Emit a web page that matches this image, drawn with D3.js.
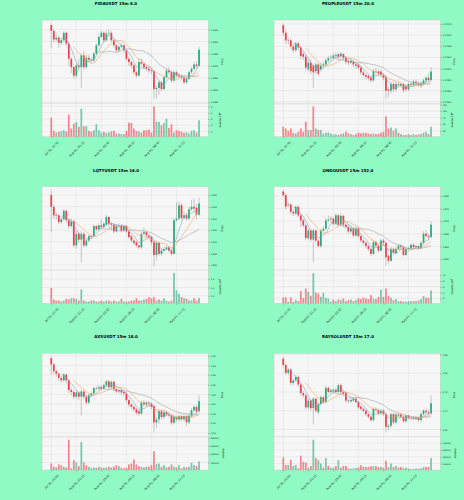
<!DOCTYPE html>
<html>
<head>
<meta charset="utf-8">
<script src="https://cdn.jsdelivr.net/npm/d3@7"></script>
<style>
  body { margin: 0; background: #8ffac3; }
  svg { display: block; }
  text { font-family: "DejaVu Sans", sans-serif; }
</style>
</head>
<body>
<svg id="chart" width="464" height="500"></svg>
<script>
// Candle data, 60 x 15m candles per symbol.
var tickIndex = [0, 10, 20, 30, 40, 50];
var tickLabels = ["Jul 31, 22:45", "Aug 01, 01:15", "Aug 01, 03:45", "Aug 01, 06:15", "Aug 01, 08:45", "Aug 01, 11:15"];
var mavWindows = [5, 10, 20];

var fidaOpen = [0.19036,0.18989,0.18917,0.18933,0.18889,0.18911,0.18972,0.18883,0.18758,0.18689,0.18619,0.18703,0.18689,0.18786,0.18689,0.18767,0.18750,0.18744,0.18800,0.18869,0.18939,0.18972,0.18911,0.18967,0.18972,0.18911,0.18869,0.18828,0.18856,0.18869,0.18828,0.18758,0.18731,0.18703,0.18647,0.18619,0.18731,0.18717,0.18689,0.18675,0.18661,0.18656,0.18508,0.18517,0.18564,0.18508,0.18606,0.18661,0.18647,0.18578,0.18647,0.18619,0.18611,0.18600,0.18564,0.18592,0.18647,0.18675,0.18711,0.18700];
var fidaClose = [0.18989,0.18917,0.18933,0.18889,0.18911,0.18972,0.18883,0.18758,0.18689,0.18619,0.18703,0.18689,0.18786,0.18689,0.18767,0.18750,0.18744,0.18800,0.18869,0.18939,0.18972,0.18911,0.18967,0.18972,0.18911,0.18869,0.18828,0.18856,0.18869,0.18828,0.18758,0.18731,0.18703,0.18647,0.18619,0.18731,0.18717,0.18689,0.18675,0.18661,0.18656,0.18508,0.18517,0.18564,0.18508,0.18606,0.18661,0.18647,0.18578,0.18647,0.18619,0.18611,0.18600,0.18564,0.18592,0.18647,0.18675,0.18711,0.18700,0.18833];
var fidaHigh = [0.19050,0.19000,0.18960,0.18950,0.18930,0.18985,0.18980,0.18900,0.18770,0.18700,0.18720,0.18760,0.18800,0.18820,0.18790,0.18790,0.18770,0.18815,0.18885,0.18960,0.18990,0.18985,0.18990,0.19000,0.18985,0.18925,0.18880,0.18870,0.18890,0.18880,0.18840,0.18775,0.18745,0.18715,0.18660,0.18760,0.18760,0.18730,0.18700,0.18690,0.18680,0.18665,0.18540,0.18580,0.18575,0.18620,0.18680,0.18690,0.18660,0.18665,0.18660,0.18640,0.18625,0.18615,0.18610,0.18660,0.18690,0.18730,0.18740,0.18856];
var fidaLow = [0.18842,0.18890,0.18900,0.18850,0.18870,0.18895,0.18860,0.18700,0.18640,0.18590,0.18600,0.18660,0.18517,0.18670,0.18680,0.18730,0.18725,0.18735,0.18790,0.18860,0.18930,0.18895,0.18900,0.18950,0.18895,0.18850,0.18810,0.18815,0.18840,0.18810,0.18740,0.18700,0.18680,0.18630,0.18600,0.18610,0.18700,0.18670,0.18655,0.18640,0.18630,0.18425,0.18430,0.18460,0.18490,0.18500,0.18595,0.18630,0.18560,0.18570,0.18600,0.18595,0.18580,0.18545,0.18550,0.18585,0.18630,0.18665,0.18680,0.18690];
var fidaVolume = [3.21e6,1.10e6,0.84e6,0.95e6,1.05e6,1.21e6,1.00e6,3.68e6,1.47e6,2.26e6,2.53e6,1.74e6,4.63e6,1.84e6,1.84e6,1.10e6,0.95e6,1.21e6,2.16e6,1.21e6,0.84e6,0.95e6,0.79e6,0.89e6,1.00e6,1.10e6,0.68e6,0.68e6,0.58e6,0.58e6,1.10e6,2.42e6,2.37e6,1.47e6,1.10e6,1.00e6,0.84e6,1.21e6,1.21e6,1.32e6,0.84e6,5.00e6,2.58e6,2.53e6,2.00e6,2.37e6,3.05e6,1.58e6,2.16e6,0.84e6,1.21e6,1.10e6,0.95e6,0.79e6,0.89e6,0.68e6,1.10e6,1.21e6,0.84e6,2.79e6];

var peopleOpen = [0.07972,0.07955,0.07938,0.07938,0.07924,0.07916,0.07931,0.07922,0.07907,0.07901,0.07873,0.07888,0.07881,0.07869,0.07884,0.07873,0.07881,0.07884,0.07893,0.07898,0.07899,0.07903,0.07907,0.07903,0.07907,0.07899,0.07892,0.07888,0.07890,0.07884,0.07883,0.07877,0.07866,0.07860,0.07858,0.07854,0.07848,0.07869,0.07868,0.07868,0.07860,0.07856,0.07828,0.07825,0.07840,0.07828,0.07840,0.07836,0.07840,0.07836,0.07828,0.07840,0.07838,0.07845,0.07841,0.07836,0.07840,0.07848,0.07854,0.07849];
var peopleClose = [0.07955,0.07938,0.07937,0.07924,0.07916,0.07931,0.07922,0.07903,0.07901,0.07877,0.07888,0.07869,0.07866,0.07884,0.07863,0.07881,0.07884,0.07893,0.07898,0.07899,0.07904,0.07905,0.07901,0.07908,0.07899,0.07890,0.07888,0.07892,0.07884,0.07881,0.07877,0.07866,0.07860,0.07856,0.07853,0.07848,0.07869,0.07868,0.07863,0.07860,0.07854,0.07825,0.07825,0.07840,0.07828,0.07840,0.07838,0.07840,0.07826,0.07828,0.07840,0.07838,0.07845,0.07841,0.07838,0.07840,0.07848,0.07854,0.07849,0.07868];
var peopleHigh = [0.07976,0.07960,0.07945,0.07942,0.07930,0.07935,0.07936,0.07926,0.07912,0.07905,0.07893,0.07895,0.07886,0.07890,0.07888,0.07886,0.07890,0.07898,0.07903,0.07905,0.07909,0.07911,0.07910,0.07912,0.07910,0.07902,0.07896,0.07897,0.07894,0.07889,0.07887,0.07880,0.07870,0.07864,0.07862,0.07858,0.07874,0.07876,0.07873,0.07872,0.07864,0.07860,0.07833,0.07845,0.07846,0.07845,0.07845,0.07844,0.07844,0.07840,0.07844,0.07845,0.07849,0.07850,0.07846,0.07845,0.07852,0.07858,0.07864,0.07878];
var peopleLow = [0.07948,0.07930,0.07928,0.07918,0.07910,0.07912,0.07915,0.07895,0.07894,0.07870,0.07868,0.07862,0.07831,0.07862,0.07858,0.07868,0.07876,0.07880,0.07888,0.07892,0.07894,0.07898,0.07895,0.07898,0.07893,0.07884,0.07882,0.07884,0.07878,0.07874,0.07872,0.07860,0.07855,0.07850,0.07847,0.07843,0.07845,0.07862,0.07857,0.07855,0.07848,0.07806,0.07810,0.07818,0.07822,0.07823,0.07832,0.07831,0.07821,0.07823,0.07824,0.07834,0.07834,0.07836,0.07833,0.07831,0.07836,0.07844,0.07845,0.07845];
var peopleVolume = [40e6,33.75e6,25e6,33.75e6,17.5e6,15e6,21.25e6,33.75e6,21.25e6,58.75e6,27.5e6,27.5e6,117.5e6,33.75e6,27.5e6,27.5e6,15e6,17.5e6,18.75e6,15e6,11.25e6,12.5e6,8.75e6,12.5e6,15e6,21.25e6,15e6,12.5e6,8.75e6,12.5e6,18.75e6,15e6,17.5e6,17.5e6,15e6,12.5e6,15e6,12.5e6,12.5e6,17.5e6,21.25e6,80e6,33.75e6,37.5e6,25e6,33.75e6,17.5e6,12.5e6,8.75e6,8.75e6,12.5e6,8.75e6,12.5e6,8.75e6,11.25e6,12.5e6,17.5e6,21.25e6,12.5e6,40e6];

var lqtyOpen = [0.9200,0.9149,0.9113,0.9113,0.9084,0.9096,0.9132,0.9092,0.9067,0.9087,0.8984,0.9034,0.9009,0.9034,0.8984,0.9005,0.9024,0.9024,0.9067,0.9053,0.9070,0.9063,0.9073,0.9106,0.9077,0.9073,0.9044,0.9067,0.9070,0.9048,0.9067,0.9044,0.9024,0.9005,0.8998,0.8984,0.8976,0.9034,0.9041,0.9027,0.9020,0.8998,0.8943,0.8995,0.8948,0.8962,0.8969,0.8976,0.8962,0.8948,0.9092,0.9099,0.9156,0.9102,0.9113,0.9099,0.9139,0.9149,0.9145,0.9116];
var lqtyClose = [0.9149,0.9113,0.9110,0.9084,0.9096,0.9132,0.9092,0.9067,0.9087,0.8984,0.9034,0.9009,0.9034,0.8984,0.9005,0.9024,0.9020,0.9067,0.9053,0.9070,0.9063,0.9077,0.9106,0.9077,0.9073,0.9044,0.9067,0.9070,0.9048,0.9067,0.9044,0.9020,0.9005,0.8995,0.8984,0.8976,0.9034,0.9041,0.9027,0.9020,0.8998,0.8943,0.8995,0.8948,0.8962,0.8969,0.8976,0.8962,0.8948,0.9092,0.9099,0.9156,0.9102,0.9113,0.9099,0.9139,0.9149,0.9142,0.9116,0.9164];
var lqtyHigh = [0.9221,0.9160,0.9125,0.9120,0.9105,0.9140,0.9138,0.9100,0.9095,0.9095,0.9045,0.9040,0.9045,0.9040,0.9012,0.9030,0.9032,0.9075,0.9072,0.9078,0.9095,0.9085,0.9115,0.9110,0.9085,0.9078,0.9075,0.9078,0.9075,0.9072,0.9072,0.9050,0.9030,0.9012,0.9005,0.8990,0.9042,0.9060,0.9048,0.9035,0.9025,0.9005,0.9002,0.9000,0.8970,0.8978,0.8985,0.8982,0.8968,0.9100,0.9170,0.9172,0.9165,0.9130,0.9125,0.9150,0.9180,0.9185,0.9160,0.9188];
var lqtyLow = [0.9041,0.9100,0.9095,0.9075,0.9075,0.9090,0.9080,0.9055,0.9060,0.8975,0.8970,0.8995,0.8912,0.8975,0.8976,0.8998,0.9012,0.9018,0.9045,0.9048,0.9058,0.9058,0.9068,0.9060,0.9050,0.9035,0.9040,0.9058,0.9040,0.9042,0.9036,0.9012,0.8996,0.8985,0.8975,0.8968,0.8970,0.9028,0.9018,0.9010,0.8985,0.8897,0.8919,0.8940,0.8940,0.8955,0.8962,0.8955,0.8940,0.8945,0.9085,0.9092,0.9095,0.9095,0.9090,0.9092,0.9130,0.9130,0.9095,0.9110];
var lqtyVolume = [0.96e6,0.28e6,0.22e6,0.22e6,0.16e6,0.22e6,0.32e6,0.28e6,0.36e6,0.36e6,0.32e6,0.22e6,0.88e6,0.22e6,0.16e6,0.16e6,0.22e6,0.22e6,0.16e6,0.16e6,0.22e6,0.16e6,0.22e6,0.22e6,0.16e6,0.22e6,0.16e6,0.16e6,0.32e6,0.16e6,0.16e6,0.16e6,0.22e6,0.22e6,0.36e6,0.22e6,0.22e6,0.28e6,0.32e6,0.42e6,0.36e6,0.42e6,0.22e6,0.28e6,0.22e6,0.36e6,0.22e6,0.16e6,0.22e6,1.86e6,0.82e6,0.62e6,0.42e6,0.36e6,0.32e6,0.22e6,0.22e6,0.36e6,0.22e6,0.36e6];

var ondoOpen = [0.8817,0.8803,0.8763,0.8766,0.8737,0.8730,0.8757,0.8723,0.8703,0.8683,0.8633,0.8663,0.8627,0.8663,0.8623,0.8601,0.8663,0.8670,0.8703,0.8707,0.8710,0.8690,0.8723,0.8686,0.8721,0.8686,0.8677,0.8659,0.8670,0.8643,0.8670,0.8641,0.8623,0.8614,0.8601,0.8590,0.8570,0.8617,0.8603,0.8583,0.8623,0.8614,0.8563,0.8543,0.8590,0.8574,0.8590,0.8603,0.8597,0.8566,0.8590,0.8593,0.8606,0.8597,0.8601,0.8593,0.8614,0.8650,0.8641,0.8637];
var ondoClose = [0.8803,0.8757,0.8766,0.8737,0.8730,0.8757,0.8723,0.8703,0.8683,0.8633,0.8663,0.8627,0.8663,0.8623,0.8601,0.8663,0.8670,0.8703,0.8707,0.8710,0.8690,0.8723,0.8686,0.8721,0.8686,0.8677,0.8659,0.8670,0.8643,0.8670,0.8641,0.8623,0.8614,0.8601,0.8590,0.8570,0.8617,0.8603,0.8583,0.8623,0.8614,0.8557,0.8543,0.8590,0.8574,0.8590,0.8603,0.8597,0.8566,0.8590,0.8593,0.8606,0.8597,0.8601,0.8593,0.8614,0.8650,0.8641,0.8637,0.8686];
var ondoHigh = [0.8823,0.8810,0.8775,0.8772,0.8745,0.8763,0.8762,0.8730,0.8710,0.8690,0.8670,0.8670,0.8672,0.8668,0.8630,0.8670,0.8680,0.8712,0.8722,0.8720,0.8715,0.8730,0.8728,0.8730,0.8726,0.8692,0.8685,0.8678,0.8675,0.8678,0.8675,0.8648,0.8630,0.8620,0.8608,0.8596,0.8625,0.8622,0.8610,0.8630,0.8630,0.8620,0.8570,0.8598,0.8596,0.8598,0.8610,0.8610,0.8603,0.8596,0.8600,0.8612,0.8612,0.8608,0.8606,0.8620,0.8660,0.8665,0.8650,0.8699];
var ondoLow = [0.8795,0.8745,0.8755,0.8728,0.8720,0.8725,0.8715,0.8677,0.8675,0.8625,0.8625,0.8618,0.8537,0.8615,0.8592,0.8595,0.8655,0.8665,0.8695,0.8698,0.8680,0.8685,0.8678,0.8680,0.8675,0.8668,0.8650,0.8652,0.8635,0.8638,0.8632,0.8615,0.8605,0.8592,0.8580,0.8562,0.8565,0.8595,0.8575,0.8578,0.8605,0.8523,0.8528,0.8538,0.8566,0.8568,0.8585,0.8590,0.8560,0.8562,0.8584,0.8588,0.8590,0.8592,0.8586,0.8588,0.8608,0.8632,0.8625,0.8630];
var ondoVolume = [2.29e6,2.29e6,0.80e6,2.29e6,0.80e6,1.49e6,1.03e6,4.46e6,2.06e6,5.37e6,4.23e6,2.86e6,10.74e6,4.00e6,3.66e6,2.51e6,3.89e6,2.17e6,1.94e6,0.80e6,1.49e6,1.03e6,1.60e6,1.37e6,1.94e6,1.03e6,1.37e6,1.60e6,1.03e6,1.37e6,1.94e6,1.71e6,2.17e6,1.94e6,1.71e6,3.09e6,1.94e6,1.71e6,2.51e6,5.03e6,2.51e6,5.37e6,2.74e6,2.17e6,1.37e6,1.71e6,1.03e6,1.03e6,0.80e6,0.80e6,1.03e6,1.03e6,1.03e6,1.03e6,1.26e6,1.71e6,2.74e6,2.17e6,2.17e6,4.69e6];

var axsOpen = [5.295,5.282,5.268,5.263,5.254,5.249,5.261,5.249,5.229,5.225,5.215,5.224,5.215,5.226,5.215,5.203,5.218,5.222,5.233,5.232,5.235,5.232,5.239,5.247,5.235,5.246,5.231,5.226,5.229,5.225,5.222,5.208,5.199,5.194,5.189,5.185,5.180,5.203,5.199,5.203,5.201,5.196,5.162,5.168,5.185,5.173,5.183,5.178,5.176,5.161,5.173,5.168,5.175,5.168,5.175,5.162,5.176,5.187,5.194,5.185];
var axsClose = [5.282,5.268,5.263,5.254,5.249,5.261,5.249,5.229,5.225,5.215,5.224,5.215,5.226,5.215,5.203,5.218,5.222,5.233,5.232,5.235,5.232,5.239,5.247,5.235,5.246,5.231,5.226,5.229,5.224,5.222,5.208,5.199,5.194,5.189,5.182,5.180,5.203,5.199,5.203,5.201,5.194,5.162,5.168,5.185,5.173,5.183,5.178,5.176,5.161,5.173,5.168,5.175,5.168,5.175,5.162,5.176,5.187,5.194,5.185,5.206];
var axsHigh = [5.298,5.285,5.272,5.266,5.258,5.264,5.264,5.252,5.233,5.228,5.228,5.227,5.230,5.229,5.218,5.222,5.226,5.236,5.237,5.239,5.239,5.243,5.250,5.250,5.249,5.248,5.234,5.232,5.232,5.228,5.225,5.211,5.202,5.197,5.192,5.188,5.207,5.208,5.207,5.206,5.204,5.199,5.172,5.189,5.188,5.187,5.186,5.182,5.179,5.177,5.176,5.179,5.178,5.179,5.178,5.180,5.191,5.198,5.198,5.218];
var axsLow = [5.260,5.262,5.256,5.248,5.244,5.246,5.242,5.222,5.218,5.210,5.211,5.208,5.176,5.210,5.198,5.200,5.214,5.219,5.228,5.229,5.228,5.229,5.236,5.230,5.231,5.227,5.222,5.222,5.219,5.218,5.203,5.194,5.189,5.184,5.177,5.175,5.177,5.195,5.195,5.196,5.189,5.141,5.150,5.160,5.168,5.169,5.174,5.172,5.157,5.158,5.164,5.164,5.164,5.165,5.154,5.158,5.172,5.183,5.180,5.182];
var axsVolume = [176000,96000,80000,152000,136000,96000,80000,752000,56000,256000,200000,112000,696000,200000,136000,96000,72000,80000,72000,96000,80000,72000,80000,96000,80000,96000,136000,112000,72000,56000,72000,152000,176000,272000,152000,112000,96000,80000,96000,96000,136000,472000,160000,176000,96000,136000,80000,96000,152000,96000,80000,136000,56000,96000,80000,96000,192000,136000,112000,224000];

var raysolOpen = [2.839,2.822,2.801,2.810,2.774,2.781,2.790,2.770,2.747,2.741,2.709,2.727,2.707,2.732,2.696,2.718,2.736,2.723,2.761,2.750,2.752,2.756,2.750,2.768,2.750,2.747,2.727,2.725,2.727,2.732,2.723,2.711,2.705,2.700,2.691,2.684,2.675,2.705,2.702,2.693,2.700,2.691,2.657,2.660,2.691,2.669,2.690,2.690,2.684,2.672,2.687,2.681,2.681,2.678,2.681,2.675,2.691,2.700,2.696,2.693];
var raysolClose = [2.822,2.801,2.810,2.774,2.781,2.790,2.770,2.747,2.741,2.709,2.727,2.707,2.732,2.700,2.718,2.736,2.723,2.761,2.750,2.754,2.756,2.750,2.768,2.750,2.745,2.727,2.725,2.729,2.732,2.723,2.709,2.705,2.700,2.691,2.684,2.675,2.705,2.702,2.693,2.700,2.691,2.657,2.660,2.691,2.669,2.690,2.687,2.684,2.672,2.687,2.681,2.680,2.678,2.681,2.675,2.691,2.700,2.696,2.693,2.720];
var raysolHigh = [2.844,2.826,2.815,2.814,2.786,2.795,2.794,2.774,2.752,2.745,2.732,2.731,2.737,2.736,2.722,2.741,2.741,2.766,2.765,2.758,2.760,2.760,2.773,2.772,2.754,2.751,2.731,2.733,2.736,2.736,2.727,2.715,2.709,2.704,2.695,2.688,2.709,2.710,2.706,2.705,2.704,2.695,2.665,2.695,2.695,2.694,2.694,2.693,2.688,2.691,2.690,2.685,2.685,2.685,2.684,2.695,2.704,2.706,2.703,2.741];
var raysolLow = [2.815,2.795,2.796,2.768,2.768,2.776,2.763,2.740,2.735,2.703,2.704,2.701,2.664,2.695,2.690,2.714,2.718,2.719,2.745,2.745,2.748,2.746,2.746,2.745,2.740,2.722,2.720,2.721,2.723,2.719,2.704,2.700,2.695,2.686,2.679,2.670,2.671,2.697,2.688,2.689,2.686,2.642,2.648,2.655,2.664,2.665,2.683,2.680,2.668,2.668,2.677,2.676,2.674,2.674,2.671,2.671,2.687,2.691,2.688,2.689];
var raysolVolume = [190000,80000,80000,155000,65000,80000,30000,215000,125000,115000,40000,65000,450000,180000,150000,100000,40000,180000,70000,40000,40000,65000,150000,40000,65000,65000,25000,25000,30000,30000,40000,75000,50000,50000,50000,60000,60000,60000,50000,50000,40000,140000,50000,100000,50000,65000,40000,50000,30000,40000,25000,15000,20000,25000,25000,30000,50000,50000,50000,180000];

// Axis ticks for each panel.
var fidaTicks = [0.184, 0.185, 0.186, 0.187, 0.188, 0.189, 0.190];
var peopleTicks = [0.07800, 0.07825, 0.07850, 0.07875, 0.07900, 0.07925, 0.07950, 0.07975];
var lqtyTicks = [0.890, 0.895, 0.900, 0.905, 0.910, 0.915, 0.920];
var ondoTicks = [0.855, 0.860, 0.865, 0.870, 0.875, 0.880];
var axsTicks = [5.14, 5.16, 5.18, 5.20, 5.22, 5.24, 5.26, 5.28, 5.30];
var raysolTicks = [2.65, 2.70, 2.75, 2.80, 2.85];

var fidaVolTicks = [1e6, 2e6, 3e6, 4e6, 5e6];
var peopleVolTicks = [25e6, 50e6, 75e6, 100e6, 125e6];
var lqtyVolTicks = [0.5e6, 1.0e6, 1.5e6];
var ondoVolTicks = [2e6, 4e6, 6e6, 8e6, 10e6];
var axsVolTicks = [200000, 400000, 600000, 800000];
var raysolVolTicks = [100000, 200000, 300000, 400000];

var charts = [
  {title: "FIDAUSDT 15m 8.0", open: fidaOpen, high: fidaHigh, low: fidaLow, close: fidaClose, volume: fidaVolume,
   ticks: fidaTicks, fmt: ".4f", volTicks: fidaVolTicks, volExp: 6, volFmt: ".0f"},
  {title: "PEOPLEUSDT 15m 20.0", open: peopleOpen, high: peopleHigh, low: peopleLow, close: peopleClose, volume: peopleVolume,
   ticks: peopleTicks, fmt: ".5f", volTicks: peopleVolTicks, volExp: 6, volFmt: ".0f"},
  {title: "LQTYUSDT 15m 16.0", open: lqtyOpen, high: lqtyHigh, low: lqtyLow, close: lqtyClose, volume: lqtyVolume,
   ticks: lqtyTicks, fmt: ".3f", volTicks: lqtyVolTicks, volExp: 6, volFmt: ".1f"},
  {title: "ONDOUSDT 15m 152.0", open: ondoOpen, high: ondoHigh, low: ondoLow, close: ondoClose, volume: ondoVolume,
   ticks: ondoTicks, fmt: ".3f", volTicks: ondoVolTicks, volExp: 6, volFmt: ".0f"},
  {title: "AXSUSDT 15m 18.0", open: axsOpen, high: axsHigh, low: axsLow, close: axsClose, volume: axsVolume,
   ticks: axsTicks, fmt: ".2f", volTicks: axsVolTicks, volExp: 0, volFmt: ".0f"},
  {title: "RAYSOLUSDT 15m 17.0", open: raysolOpen, high: raysolHigh, low: raysolLow, close: raysolClose, volume: raysolVolume,
   ticks: raysolTicks, fmt: ".2f", volTicks: raysolVolTicks, volExp: 0, volFmt: ".0f"}
];

// Layout of one panel (each panel is 232 x 166.7).
var panelW = 232, panelH = 500 / 3;
var frame = {left: 42, right: 208.3, top: 20, split: 103.3, bottom: 136.7};
var upColor = "#26ad7a", downColor = "#f0404e";
var mavColors = ["#7aa6c8", "#f0a860", "#a3a3a3"];

var svg = d3.select("#chart");

function styleAxis(sel, size) {
  sel.select(".domain").remove();
  sel.selectAll(".tick line").attr("stroke", "#555").attr("stroke-width", 0.35);
  sel.selectAll(".tick text").attr("fill", "#222").style("font-size", size + "px");
}

charts.forEach(function(c, k) {
  var g = svg.append("g")
    .attr("transform", "translate(" + ((k % 2) * panelW) + "," + (Math.floor(k / 2) * panelH) + ")");
  var n = c.close.length;
  var idx = d3.range(n);

  var x = d3.scaleLinear().domain([-3.7, n - 1 + 3.7]).range([frame.left, frame.right]);
  var lo = d3.min(c.low), hi = d3.max(c.high), span = hi - lo;
  var y = d3.scaleLinear().domain([lo - 0.055 * span, hi + 0.045 * span]).range([frame.split, frame.top]);
  var vy = d3.scaleLinear().domain([0.3 * d3.min(c.volume), 1.1 * d3.max(c.volume)]).range([frame.bottom, frame.split]);
  var step = x(1) - x(0);
  var bw = step * 0.7;

  // Title.
  g.append("text")
    .attr("x", panelW / 2).attr("y", 5)
    .attr("text-anchor", "middle")
    .style("font-size", "4px").style("font-weight", "bold")
    .text(c.title);

  // Panel background.
  g.append("rect").attr("x", frame.left).attr("y", frame.top)
    .attr("width", frame.right - frame.left).attr("height", frame.bottom - frame.top)
    .attr("fill", "#f6f6f6");

  // Grid lines.
  var grid = g.append("g").attr("stroke", "#dcdcdc").attr("stroke-width", 0.4);
  grid.selectAll(".vg").data(tickIndex).enter().append("line")
    .attr("x1", function(d) { return x(d); }).attr("x2", function(d) { return x(d); })
    .attr("y1", frame.top).attr("y2", frame.bottom);
  grid.selectAll(".hg").data(c.ticks).enter().append("line")
    .attr("x1", frame.left).attr("x2", frame.right)
    .attr("y1", function(d) { return y(d); }).attr("y2", function(d) { return y(d); });
  grid.selectAll(".vgv").data(c.volTicks).enter().append("line")
    .attr("x1", frame.left).attr("x2", frame.right)
    .attr("y1", function(d) { return vy(d); }).attr("y2", function(d) { return vy(d); });

  // Frame outlines.
  g.append("rect").attr("x", frame.left).attr("y", frame.top)
    .attr("width", frame.right - frame.left).attr("height", frame.bottom - frame.top)
    .attr("fill", "none").attr("stroke", "#c4c4c4").attr("stroke-width", 0.4);
  g.append("line").attr("x1", frame.left).attr("x2", frame.right)
    .attr("y1", frame.split).attr("y2", frame.split)
    .attr("stroke", "#c4c4c4").attr("stroke-width", 0.4);

  function isUp(i) { return c.close[i] >= c.open[i]; }

  // Volume bars.
  g.append("g").selectAll("rect").data(idx).enter().append("rect")
    .attr("x", function(i) { return x(i) - bw / 2; })
    .attr("width", bw)
    .attr("y", function(i) { return vy(c.volume[i]); })
    .attr("height", function(i) { return frame.bottom - vy(c.volume[i]); })
    .attr("fill", function(i) { return isUp(i) ? upColor : downColor; })
    .attr("fill-opacity", 0.62);

  // Wicks.
  g.append("g").selectAll("line").data(idx).enter().append("line")
    .attr("x1", function(i) { return x(i); }).attr("x2", function(i) { return x(i); })
    .attr("y1", function(i) { return y(c.high[i]); })
    .attr("y2", function(i) { return y(c.low[i]); })
    .attr("stroke", "#8a8a8a").attr("stroke-width", 0.45);

  // Candle bodies.
  g.append("g").selectAll("rect").data(idx).enter().append("rect")
    .attr("x", function(i) { return x(i) - bw / 2; })
    .attr("width", bw)
    .attr("y", function(i) { return y(Math.max(c.open[i], c.close[i])); })
    .attr("height", function(i) { return Math.max(0.35, Math.abs(y(c.open[i]) - y(c.close[i]))); })
    .attr("fill", function(i) { return isUp(i) ? upColor : downColor; });

  // Moving averages of the close.
  mavWindows.forEach(function(w, m) {
    var pts = idx.filter(function(i) { return i >= w - 1; }).map(function(i) {
      return [i, d3.mean(c.close.slice(i - w + 1, i + 1))];
    });
    g.append("path")
      .attr("d", d3.line().x(function(d) { return x(d[0]); }).y(function(d) { return y(d[1]); })(pts))
      .attr("fill", "none").attr("stroke", mavColors[m]).attr("stroke-width", 0.6);
  });

  // Price axis (right).
  var py = g.append("g").attr("transform", "translate(" + frame.right + ",0)")
    .call(d3.axisRight(y).tickValues(c.ticks).tickFormat(d3.format(c.fmt)).tickSize(1.4).tickPadding(1.2));
  styleAxis(py, 2.1);

  g.append("text")
    .attr("transform", "translate(" + 223 + "," + ((frame.top + frame.split) / 2) + ") rotate(-90)")
    .attr("text-anchor", "middle")
    .style("font-size", "2.6px")
    .text("Price");

  // Volume axis (right).
  var vfmt = d3.format(c.volFmt);
  var vax = g.append("g").attr("transform", "translate(" + frame.right + ",0)")
    .call(d3.axisRight(vy).tickValues(c.volTicks)
      .tickFormat(function(d) { return vfmt(d / Math.pow(10, c.volExp)); })
      .tickSize(1.4).tickPadding(1.2));
  styleAxis(vax, 2.1);

  var vlab = g.append("text")
    .attr("transform", "translate(" + (c.volExp ? 220.5 : 224) + "," + ((frame.split + frame.bottom) / 2) + ") rotate(-90)")
    .attr("text-anchor", "middle")
    .style("font-size", "2.6px");
  vlab.append("tspan").text("Volume");
  if (c.volExp) {
    vlab.append("tspan").text("  10");
    vlab.append("tspan").attr("dy", "-0.45em").style("font-size", "1.8px").text(c.volExp);
  }

  // Time axis, labels rotated 45 degrees and centred under their ticks.
  var xa = g.append("g").attr("transform", "translate(0," + frame.bottom + ")")
    .call(d3.axisBottom(x).tickValues(tickIndex)
      .tickFormat(function(d, i) { return tickLabels[i]; })
      .tickSize(1.4).tickPadding(1));
  styleAxis(xa, 2.9);
  xa.selectAll(".tick text")
    .attr("text-anchor", "middle")
    .attr("x", 0).attr("y", 0).attr("dy", "0.35em")
    .attr("transform", function() {
      var len = this.getComputedTextLength();
      var half = (len + 2.9) * 0.7071 / 2;
      return "translate(0," + (4 + half) + ") rotate(-45)";
    });
});
</script>
</body>
</html>
